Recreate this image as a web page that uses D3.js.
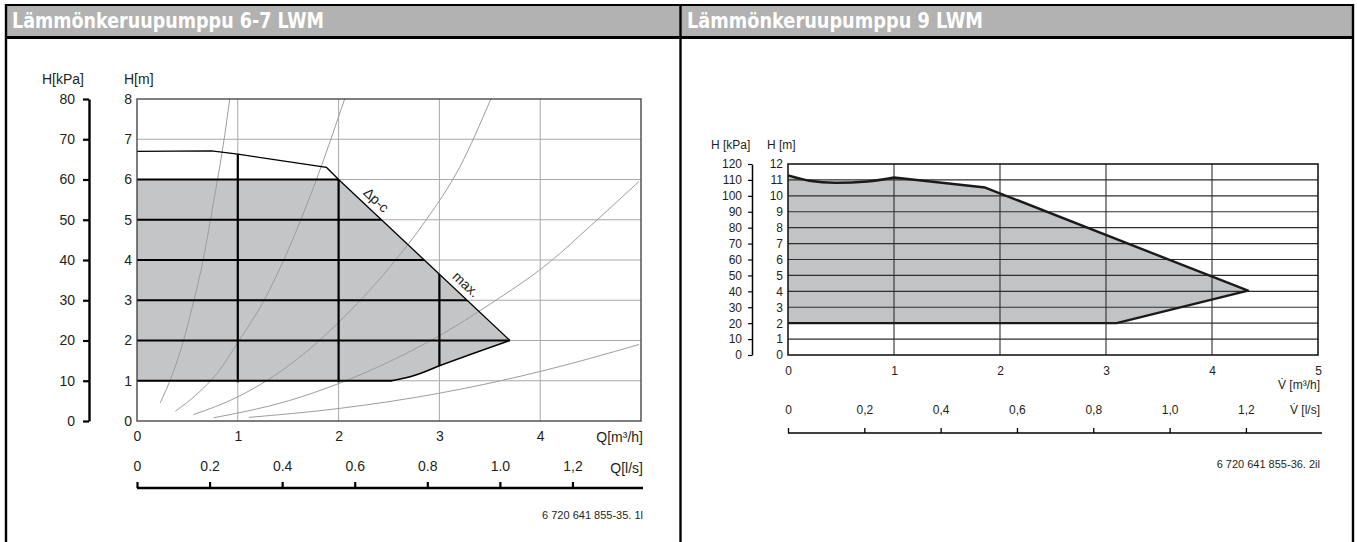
<!DOCTYPE html>
<html>
<head>
<meta charset="utf-8">
<script src="https://cdn.jsdelivr.net/npm/d3@7"></script>
<style>
body { margin: 0; background: #fff; }
svg { display: block; }
</style>
</head>
<body>
<div id="chart"></div>
<script>
var width = 1357, height = 542;

// header texts
var titles = ["Lämmönkeruupumppu 6-7 LWM", "Lämmönkeruupumppu 9 LWM"];
var codes = ["6 720 641 855-35. 1l", "6 720 641 855-36. 2il"];

// left chart (6-7 LWM)
var leftQ = [0, 1, 2, 3, 4];
var leftHm = [0, 1, 2, 3, 4, 5, 6, 7, 8];
var leftKpa = [0, 10, 20, 30, 40, 50, 60, 70, 80];
var leftLs = [0, 0.2, 0.4, 0.6, 0.8, 1.0, 1.2];
var leftLsLabels = ["0", "0.2", "0.4", "0.6", "0.8", "1.0", "1,2"];
var leftMax = [[0, 6.7], [0.74, 6.71], [1.0, 6.63], [1.88, 6.3], [2.0, 6.0]];
var leftDpc = [[2.0, 6.0], [3.7, 2.0]];
var leftLow = [[2.53, 1.0], [2.75, 1.13], [3.0, 1.37], [3.7, 2.0]];
var leftCurveLabels = [{ text: "\u0394p-c", q: 2.30 }, { text: "max.", q: 3.19 }];
var leftSystem = [
  [[0.23, 0.45], [0.35, 1.15], [0.45, 1.9], [0.55, 2.85], [0.66, 4.05], [0.75, 5.3], [0.87, 7.1], [0.92, 8.0]],
  [[0.38, 0.24], [0.6, 0.68], [0.8, 1.2], [1.0, 1.95], [1.25, 2.95], [1.5, 4.25], [1.75, 5.8], [2.06, 8.0]],
  [[0.56, 0.16], [1.0, 0.6], [1.58, 1.52], [2.0, 2.45], [2.5, 3.8], [2.87, 5.0], [3.2, 6.3], [3.51, 8.0]],
  [[0.76, 0.08], [1.5, 0.5], [2.0, 0.93], [2.5, 1.47], [3.0, 2.12], [3.5, 2.9], [4.1, 3.96], [4.5, 4.85], [4.98, 5.95]],
  [[1.11, 0.09], [2.0, 0.31], [3.0, 0.69], [4.0, 1.23], [4.98, 1.9]]
];

// right chart (9 LWM)
var rightQ = [0, 1, 2, 3, 4, 5];
var rightHm = [0, 1, 2, 3, 4, 5, 6, 7, 8, 9, 10, 11, 12];
var rightKpa = [0, 10, 20, 30, 40, 50, 60, 70, 80, 90, 100, 110, 120];
var rightLs = [0, 0.2, 0.4, 0.6, 0.8, 1.0, 1.2];
var rightLsLabels = ["0", "0,2", "0,4", "0,6", "0,8", "1,0", "1,2"];
var rightTop = [[0, 11.28], [0.2, 10.95], [0.45, 10.82], [0.75, 10.9], [1.0, 11.15]];
var rightEdge = [[1.86, 10.52], [4.34, 4.04], [3.1, 2.0], [0, 2.0]];

var font = "'Liberation Sans', Arial, sans-serif";
var ink = "#231f20";

var svg = d3.select("#chart").append("svg")
  .attr("width", width)
  .attr("height", height)
  .attr("viewBox", "0 0 " + width + " " + height);

// ---- frame + header bars
svg.append("rect").attr("x", 6).attr("y", 5).attr("width", 1347).attr("height", 32).attr("fill", "#b2b2b2");
svg.append("line").attr("x1", 5).attr("x2", 1354).attr("y1", 5).attr("y2", 5).attr("stroke", "#000").attr("stroke-width", 2);
svg.append("line").attr("x1", 5).attr("x2", 1354).attr("y1", 37.5).attr("y2", 37.5).attr("stroke", "#000").attr("stroke-width", 3);
[6, 680.5, 1353].forEach(function (x) {
  svg.append("line").attr("x1", x).attr("x2", x).attr("y1", 4).attr("y2", height)
    .attr("stroke", "#000").attr("stroke-width", 2.4);
});
svg.selectAll("text.title")
  .data(titles)
  .enter()
  .append("text")
  .attr("class", "title")
  .attr("x", function (d, i) { return i == 0 ? 12 : 687; })
  .attr("y", 28)
  .attr("font-family", "'Liberation Sans Narrow', 'DejaVu Sans Condensed', sans-serif")
  .attr("font-weight", "bold")
  .attr("font-size", "21px")
  .attr("fill", "#fff")
  .attr("textLength", function (d, i) { return i == 0 ? 312 : 296; })
  .attr("lengthAdjust", "spacingAndGlyphs")
  .text(function (d) { return d; });

// ================= LEFT CHART =================
var lx = d3.scaleLinear().domain([0, 5]).range([137, 641]);
var ly = d3.scaleLinear().domain([0, 8]).range([421, 99]);
var lk = d3.scaleLinear().domain([0, 80]).range([421, 99]);
var lls = d3.scaleLinear().domain([0, 5 / 3.6]).range([137, 641]);

var left = svg.append("g");
var line = d3.line().x(function (d) { return lx(d[0]); }).y(function (d) { return ly(d[1]); });

// shaded operating field
var fieldPts = [[0, 1], [0, 6]].concat(leftDpc).concat(leftLow.slice().reverse().slice(1));
left.append("path")
  .attr("d", line(fieldPts) + "Z")
  .attr("fill", "#c4c5c7");

// light grid
left.append("g").selectAll("line")
  .data(leftHm.slice(1, -1))
  .enter().append("line")
  .attr("x1", lx(0)).attr("x2", lx(5))
  .attr("y1", function (d) { return ly(d); }).attr("y2", function (d) { return ly(d); })
  .attr("stroke", "#a9a9a9").attr("stroke-width", 1);
left.append("g").selectAll("line")
  .data(leftQ.slice(1))
  .enter().append("line")
  .attr("y1", ly(0)).attr("y2", ly(8))
  .attr("x1", function (d) { return lx(d); }).attr("x2", function (d) { return lx(d); })
  .attr("stroke", "#a9a9a9").attr("stroke-width", 1);

// system curves
left.append("clipPath").attr("id", "lplot")
  .append("rect").attr("x", lx(0)).attr("y", ly(8)).attr("width", lx(5) - lx(0)).attr("height", ly(0) - ly(8));
left.append("g").attr("clip-path", "url(#lplot)")
  .selectAll("path")
  .data(leftSystem)
  .enter().append("path")
  .attr("d", d3.line().curve(d3.curveMonotoneX).x(function (d) { return lx(d[0]); }).y(function (d) { return ly(d[1]); }))
  .attr("fill", "none")
  .attr("stroke", "#9d9d9d")
  .attr("stroke-width", 1);

// heavy grid inside area under max curve
var clipPts = [[0, 0.96], [leftLow[0][0], 0.96]].concat(leftLow).concat([leftDpc[0]]).concat(leftMax.slice().reverse());
left.append("clipPath").attr("id", "lfield")
  .append("path").attr("d", line(clipPts) + "Z");
var heavy = left.append("g").attr("clip-path", "url(#lfield)");
heavy.selectAll("line.h")
  .data(leftHm.slice(1, 7))
  .enter().append("line").attr("class", "h")
  .attr("x1", lx(0)).attr("x2", lx(5))
  .attr("y1", function (d) { return ly(d); }).attr("y2", function (d) { return ly(d); })
  .attr("stroke", "#000").attr("stroke-width", 2.2);
heavy.selectAll("line.v")
  .data(leftQ.slice(1))
  .enter().append("line").attr("class", "v")
  .attr("y1", ly(0)).attr("y2", ly(8))
  .attr("x1", function (d) { return lx(d); }).attr("x2", function (d) { return lx(d); })
  .attr("stroke", "#000").attr("stroke-width", 2.2);

// pump curves
left.append("path").attr("d", line(leftMax)).attr("fill", "none").attr("stroke", "#000").attr("stroke-width", 1.3);
left.append("path").attr("d", line(leftDpc)).attr("fill", "none").attr("stroke", "#000").attr("stroke-width", 1.3);
left.append("path").attr("d", d3.line().curve(d3.curveMonotoneX).x(function (d) { return lx(d[0]); }).y(function (d) { return ly(d[1]); })(leftLow))
  .attr("fill", "none").attr("stroke", "#000").attr("stroke-width", 1.6);

// plot frame
left.append("rect")
  .attr("x", lx(0)).attr("y", ly(8)).attr("width", lx(5) - lx(0)).attr("height", ly(0) - ly(8))
  .attr("fill", "none").attr("stroke", "#3a3a3a").attr("stroke-width", 1.3);

// rotated curve labels
var p1 = [lx(leftDpc[0][0]), ly(leftDpc[0][1])], p2 = [lx(leftDpc[1][0]), ly(leftDpc[1][1])];
var ang = Math.atan2(p2[1] - p1[1], p2[0] - p1[0]) * 180 / Math.PI;
left.selectAll("text.clab")
  .data(leftCurveLabels)
  .enter().append("text").attr("class", "clab")
  .attr("transform", function (d) {
    var t = (d.q - leftDpc[0][0]) / (leftDpc[1][0] - leftDpc[0][0]);
    var px = p1[0] + t * (p2[0] - p1[0]), py = p1[1] + t * (p2[1] - p1[1]);
    return "translate(" + px + "," + py + ") rotate(" + ang + ")";
  })
  .attr("y", -6)
  .attr("text-anchor", "middle")
  .attr("font-family", font).attr("font-size", "14px").attr("fill", ink)
  .text(function (d) { return d.text; });

// kPa axis
var kAxis = left.append("g")
  .attr("transform", "translate(89,0)")
  .call(d3.axisLeft(lk).tickValues(leftKpa).tickSize(6).tickSizeOuter(0).tickPadding(8));
kAxis.select(".domain").attr("stroke", "#000").attr("stroke-width", 2.4);
kAxis.selectAll(".tick line").attr("stroke", "#000").attr("stroke-width", 2.2);
kAxis.selectAll("text").attr("font-family", font).attr("font-size", "14px").attr("fill", ink);

// m axis
var mAxis = left.append("g")
  .attr("transform", "translate(" + lx(0) + ",0)")
  .call(d3.axisLeft(ly).tickValues(leftHm).tickSize(0).tickPadding(5));
mAxis.select(".domain").remove();
mAxis.selectAll("text").attr("font-family", font).attr("font-size", "14px").attr("fill", ink);

// Q m3/h axis labels
var qAxis = left.append("g")
  .attr("transform", "translate(0," + ly(0) + ")")
  .call(d3.axisBottom(lx).tickValues(leftQ).tickSize(0).tickPadding(10).tickFormat(d3.format("d")));
qAxis.select(".domain").remove();
qAxis.selectAll("text").attr("font-family", font).attr("font-size", "14px").attr("fill", ink);

// Q l/s axis
var lsAxis = left.append("g")
  .attr("transform", "translate(0,488)")
  .call(d3.axisTop(lls).tickValues(leftLs).tickSize(6).tickSizeOuter(0).tickPadding(11)
    .tickFormat(function (d, i) { return leftLsLabels[i]; }));
lsAxis.select(".domain").attr("stroke", "#000").attr("stroke-width", 2.4).attr("d", "M" + lx(0) + ",0H643");
lsAxis.selectAll(".tick line").attr("stroke", "#000").attr("stroke-width", 2.2);
lsAxis.selectAll("text").attr("font-family", font).attr("font-size", "14px").attr("fill", ink);

// unit labels
var lText = [
  { t: "H[kPa]", x: 42, y: 84, a: "start", s: 14 },
  { t: "H[m]", x: 124, y: 84, a: "start", s: 14 },
  { t: "Q[m\u00b3/h]", x: 643, y: 442, a: "end", s: 14 },
  { t: "Q[l/s]", x: 643, y: 473, a: "end", s: 14 },
  { t: codes[0], x: 643, y: 519, a: "end", s: 11 }
];
left.selectAll("text.unit")
  .data(lText)
  .enter().append("text").attr("class", "unit")
  .attr("x", function (d) { return d.x; })
  .attr("y", function (d) { return d.y; })
  .attr("text-anchor", function (d) { return d.a; })
  .attr("font-family", font)
  .attr("font-size", function (d) { return d.s + "px"; })
  .attr("fill", ink)
  .text(function (d) { return d.t; });

// ================= RIGHT CHART =================
var rx = d3.scaleLinear().domain([0, 5]).range([788, 1318]);
var ry = d3.scaleLinear().domain([0, 12]).range([355, 164]);
var rk = d3.scaleLinear().domain([0, 120]).range([355, 164]);
var rls = d3.scaleLinear().domain([0, 5 / 3.6]).range([788, 1318]);

var right = svg.append("g");
var rsmooth = d3.line().curve(d3.curveMonotoneX).x(function (d) { return rx(d[0]); }).y(function (d) { return ry(d[1]); });
var edgePath = rsmooth(rightTop) + rightEdge.map(function (d) { return "L" + rx(d[0]) + "," + ry(d[1]); }).join("");

right.append("path")
  .attr("d", edgePath + "Z")
  .attr("fill", "#c2c3c5");

// grid
right.append("g").selectAll("line")
  .data(rightHm.slice(1, -1))
  .enter().append("line")
  .attr("x1", rx(0)).attr("x2", rx(5))
  .attr("y1", function (d) { return ry(d); }).attr("y2", function (d) { return ry(d); })
  .attr("stroke", "#2e2e2e").attr("stroke-width", 1.1);
right.append("g").selectAll("line")
  .data(rightQ.slice(1, -1))
  .enter().append("line")
  .attr("y1", ry(0)).attr("y2", ry(12))
  .attr("x1", function (d) { return rx(d); }).attr("x2", function (d) { return rx(d); })
  .attr("stroke", "#2e2e2e").attr("stroke-width", 1.1);

// outline of field
right.append("path")
  .attr("d", edgePath)
  .attr("fill", "none")
  .attr("stroke", "#1a1a1a")
  .attr("stroke-width", 2.4)
  .attr("stroke-linejoin", "round");

right.append("rect")
  .attr("x", rx(0)).attr("y", ry(12)).attr("width", rx(5) - rx(0)).attr("height", ry(0) - ry(12))
  .attr("fill", "none").attr("stroke", "#1a1a1a").attr("stroke-width", 1.6);

// kPa axis
var rkAxis = right.append("g")
  .attr("transform", "translate(752,0)")
  .call(d3.axisLeft(rk).tickValues(rightKpa).tickSize(4).tickSizeOuter(0).tickPadding(6));
rkAxis.select(".domain").attr("stroke", "#000").attr("stroke-width", 1.5);
rkAxis.selectAll(".tick line").attr("stroke", "#000").attr("stroke-width", 1.2);
rkAxis.selectAll("text").attr("font-family", font).attr("font-size", "12px").attr("fill", ink);

var rmAxis = right.append("g")
  .attr("transform", "translate(" + rx(0) + ",0)")
  .call(d3.axisLeft(ry).tickValues(rightHm).tickSize(0).tickPadding(5));
rmAxis.select(".domain").remove();
rmAxis.selectAll("text").attr("font-family", font).attr("font-size", "12px").attr("fill", ink);

var rqAxis = right.append("g")
  .attr("transform", "translate(0," + ry(0) + ")")
  .call(d3.axisBottom(rx).tickValues(rightQ).tickSize(0).tickPadding(11).tickFormat(d3.format("d")));
rqAxis.select(".domain").remove();
rqAxis.selectAll("text").attr("font-family", font).attr("font-size", "12px").attr("fill", ink);

var rlsAxis = right.append("g")
  .attr("transform", "translate(0,433)")
  .call(d3.axisTop(rls).tickValues(rightLs).tickSize(5).tickSizeOuter(0).tickPadding(14)
    .tickFormat(function (d, i) { return rightLsLabels[i]; }));
rlsAxis.select(".domain").attr("stroke", "#000").attr("stroke-width", 1.5).attr("d", "M" + rx(0) + ",0H1322");
rlsAxis.selectAll(".tick line").attr("stroke", "#000").attr("stroke-width", 1.3);
rlsAxis.selectAll("text").attr("font-family", font).attr("font-size", "12px").attr("fill", ink);

var rText = [
  { t: "H [kPa]", x: 711, y: 149, a: "start", s: 12 },
  { t: "H [m]", x: 767, y: 149, a: "start", s: 12 },
  { t: "V\u0307 [m\u00b3/h]", x: 1320, y: 389, a: "end", s: 12 },
  { t: "V\u0307 [l/s]", x: 1320, y: 414, a: "end", s: 12 },
  { t: codes[1], x: 1320, y: 468, a: "end", s: 11 }
];
right.selectAll("text.unit")
  .data(rText)
  .enter().append("text").attr("class", "unit")
  .attr("x", function (d) { return d.x; })
  .attr("y", function (d) { return d.y; })
  .attr("text-anchor", function (d) { return d.a; })
  .attr("font-family", font)
  .attr("font-size", function (d) { return d.s + "px"; })
  .attr("fill", ink)
  .text(function (d) { return d.t; });
</script>
</body>
</html>
